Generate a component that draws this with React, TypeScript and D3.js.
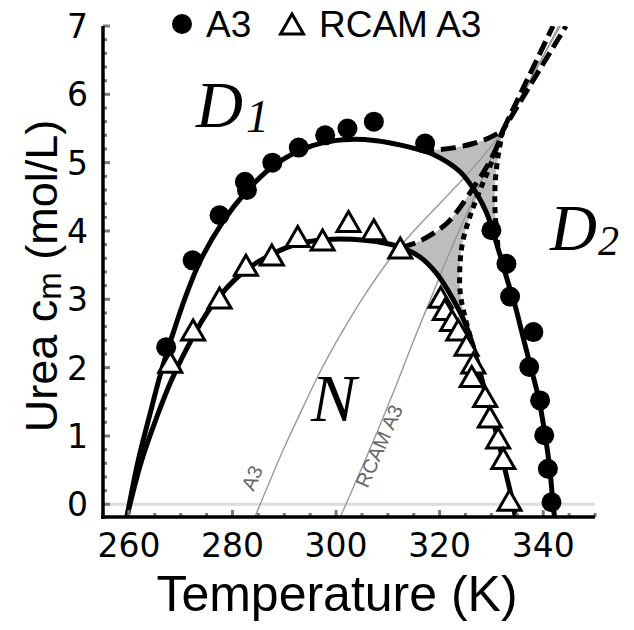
import React from 'react';
import * as d3 from 'd3';

type P = [number, number];

// ---- data (temperature K, urea mol/L) ----
const A3_T = [267.2, 272.3, 277.5, 282.4, 282.8, 287.7, 292.8, 297.9, 302.2, 307.3, 317.2, 330.0, 332.9, 333.6, 338.1, 337.3, 339.4, 340.2, 340.9, 341.6];
const A3_C = [2.30, 3.57, 4.23, 4.72, 4.60, 5.00, 5.22, 5.40, 5.50, 5.60, 5.28, 4.01, 3.52, 3.04, 2.52, 2.01, 1.52, 1.01, 0.52, 0.03];

const RCAM_T = [268.0, 272.4, 277.5, 282.6, 287.6, 292.6, 297.4, 302.4, 307.3, 312.4, 320.2, 321.0, 322.4, 323.6, 325.2, 326.5, 326.2, 328.8, 329.7, 331.3, 332.3, 333.5];
const RCAM_C = [2.05, 2.52, 2.99, 3.47, 3.62, 3.89, 3.84, 4.11, 3.99, 3.72, 3.00, 2.82, 2.66, 2.52, 2.30, 2.04, 1.84, 1.55, 1.25, 0.94, 0.64, 0.03];

const A3_FIT: P[] = [[259.6, -0.19], [261.8, 0.64], [264, 1.3], [266, 1.88], [268.3, 2.45], [271, 3.05], [273.7, 3.55], [278, 4.12], [282.6, 4.57], [287.7, 4.94], [292.8, 5.17], [297.9, 5.30], [302.7, 5.34], [307.8, 5.32], [312.3, 5.26], [316.0, 5.19], [318.8, 5.12], [323.9, 4.87], [327.1, 4.55], [329.1, 4.26], [331.3, 3.74], [333.0, 3.3], [334.6, 2.9], [336.2, 2.42], [337.8, 1.95], [339.2, 1.52], [340.4, 1.0], [341.3, 0.5], [341.9, 0], [342.2, -0.19]];
const RCAM_FIT: P[] = [[259.6, -0.19], [262.5, 0.65], [265.5, 1.3], [268, 1.78], [270.5, 2.18], [275.7, 2.87], [282.1, 3.40], [287.9, 3.67], [293, 3.82], [299.5, 3.88], [305.9, 3.86], [309.5, 3.82], [312.5, 3.76], [316.2, 3.62], [319.4, 3.38], [322.6, 3.0], [325.2, 2.6], [326.7, 2.25], [329.1, 1.55], [331.3, 0.94], [332.8, 0.45], [334.2, 0], [334.6, -0.19]];

const CUSP: P = [332.2, 5.47];
const A3_SPIN: P[] = [[316.0, 5.19], [319.5, 5.19], [323, 5.22], [326.5, 5.28], [329.5, 5.36], CUSP];
const A3_SPIN_TOP: P[] = [CUSP, [341.9, 7.0]];
const A3_SPIN2: P[] = [CUSP, [331.2, 5.05], [330.7, 4.65], [330.7, 4.3], [331.0, 4.0], [331.3, 3.74]];
const A3_EDGE: P[] = [[331.3, 3.74], [329.1, 4.26], [327.1, 4.55], [323.9, 4.87], [318.8, 5.12], [316.0, 5.19]];

const RCAM_SPIN: P[] = [[312.5, 3.76], [315.5, 3.83], [318.7, 3.96], [321.5, 4.12], [323.8, 4.33], [326.4, 4.62], [329.1, 4.94], [331.0, 5.22], CUSP];
const RCAM_SPIN_TOP: P[] = [CUSP, [344.4, 7.0]];
const RCAM_SPIN2: P[] = [CUSP, [330.0, 5.0], [327.8, 4.6], [325.8, 4.2], [324.4, 3.82], [323.9, 3.45], [324.0, 3.08], [324.9, 2.74], [326.7, 2.25]];
const RCAM_EDGE: P[] = [[326.7, 2.25], [325.2, 2.6], [322.6, 3.0], [319.4, 3.38], [316.2, 3.62], [312.5, 3.76]];

const A3_THIN: P[] = [[284.3, -0.19], [287, 0.3], [290, 0.83], [293.5, 1.4], [297, 1.95], [301, 2.5], [305, 3.0], [310, 3.55], [315, 4.0], [320, 4.4], [325, 4.8], [329, 5.15], CUSP, [343.0, 7.0]];
const RCAM_THIN: P[] = [[300.8, -0.19], [304.5, 0.45], [308, 1.07], [311.5, 1.72], [315, 2.4], [318.5, 3.05], [322, 3.7], [325.5, 4.3], [329, 4.9], CUSP, [343.3, 7.0]];

const X_TICKS = [260, 280, 300, 320, 340];
const Y_TICKS = [0, 1, 2, 3, 4, 5, 6, 7];

export default function App() {
  const x = d3.scaleLinear().domain([255, 350]).range([103, 595]);
  const y = d3.scaleLinear().domain([-0.186, 7]).range([517, 26]);
  const smooth = d3.line<P>().x(d => x(d[0])).y(d => y(d[1])).curve(d3.curveCatmullRom.alpha(0.5));
  const straight = d3.line<P>().x(d => x(d[0])).y(d => y(d[1]));
  const join = (...parts: string[]) => parts.map((p, i) => (i === 0 ? p : p.replace(/^M/, 'L'))).join('') + 'Z';

  const upperFill = join(smooth(A3_SPIN)!, smooth(A3_SPIN2)!, smooth(A3_EDGE)!);
  const lowerFill = join(smooth(RCAM_SPIN)!, smooth(RCAM_SPIN2)!, smooth(RCAM_EDGE)!);

  const xMinor = d3.range(255, 351, 5);
  const yMinor = d3.range(0, 7.01, 0.2);
  const tri = 'M0,-12L11.5,8L-11.5,8Z';
  const sans = 'Liberation Sans, Arial, sans-serif';
  const serif = 'Liberation Serif, Times New Roman, serif';
  const tickFont = 'DejaVu Sans, sans-serif';

  return (
    <svg width={634} height={630} style={{ position: 'absolute', left: 0, top: 0, background: '#fff' }}>
      <defs>
        <clipPath id="plot"><rect x={103} y={26} width={492} height={491} /></clipPath>
      </defs>
      <line x1={103} x2={595} y1={y(0)} y2={y(0)} stroke="#dcdcdc" strokeWidth={3} />
      <g clipPath="url(#plot)">
        <path d={upperFill} fill="#bdbdbd" stroke="none" />
        <path d={lowerFill} fill="#bdbdbd" stroke="none" />
        <path d={smooth(A3_THIN)!} fill="none" stroke="#999" strokeWidth={1.4} />
        <path d={smooth(RCAM_THIN)!} fill="none" stroke="#999" strokeWidth={1.4} />
        <path d={smooth(A3_FIT)!} fill="none" stroke="#000" strokeWidth={5} />
        <path d={smooth(RCAM_FIT)!} fill="none" stroke="#000" strokeWidth={5} />
        <path d={smooth(A3_SPIN)!} fill="none" stroke="#000" strokeWidth={5} strokeDasharray="15 7" />
        <path d={smooth(RCAM_SPIN)!} fill="none" stroke="#000" strokeWidth={5} strokeDasharray="15 7" />
        <path d={straight(A3_SPIN_TOP)!} fill="none" stroke="#000" strokeWidth={5} strokeDasharray="15 6" />
        <path d={straight(RCAM_SPIN_TOP)!} fill="none" stroke="#000" strokeWidth={5} strokeDasharray="15 6" strokeDashoffset={8} />
        <path d={smooth(A3_SPIN2)!} fill="none" stroke="#000" strokeWidth={5} strokeDasharray="6 5" />
        <path d={smooth(RCAM_SPIN2)!} fill="none" stroke="#000" strokeWidth={5} strokeDasharray="6 5" />
      </g>

      {RCAM_T.map((t, i) => (
        <path key={'t' + i} d={tri} transform={`translate(${x(t)},${y(RCAM_C[i])})`} fill="#fff" stroke="#000" strokeWidth={3} strokeLinejoin="miter" />
      ))}
      {A3_T.map((t, i) => (
        <circle key={'c' + i} cx={x(t)} cy={y(A3_C[i])} r={10} fill="#000" />
      ))}

      {/* axes */}
      {xMinor.map(v => {
        const major = v % 20 === 0;
        return <line key={'xt' + v} x1={x(v)} x2={x(v)} y1={517} y2={major ? 510 : 513} stroke="#7a7a7a" strokeWidth={3} />;
      })}
      {yMinor.map(v => {
        const major = Math.abs(v - Math.round(v)) < 1e-6;
        return <line key={'yt' + v.toFixed(1)} x1={103} x2={major ? 110 : 107} y1={y(v)} y2={y(v)} stroke="#7a7a7a" strokeWidth={3} />;
      })}
      <line x1={101} x2={595} y1={517} y2={517} stroke="#000" strokeWidth={3.5} />
      <line x1={103} x2={103} y1={26} y2={519} stroke="#000" strokeWidth={3.5} />

      {X_TICKS.map(v => (
        <text key={'xl' + v} x={x(v)} y={557} textAnchor="middle" fontFamily={tickFont} fontSize={33} fill="#000">{v}</text>
      ))}
      {Y_TICKS.map(v => (
        <text key={'yl' + v} x={88} y={y(v) + 12} textAnchor="end" fontFamily={tickFont} fontSize={33} fill="#000">{v}</text>
      ))}

      <text x={337} y={611} textAnchor="middle" fontFamily={sans} fontSize={50} fill="#000">Temperature (K)</text>
      <text transform="translate(57,276) rotate(-90)" textAnchor="middle" fontFamily={sans} fontSize={45} fill="#000">
        <tspan>Urea c</tspan><tspan fontSize={33} dy={4}>m</tspan><tspan dy={-4}> (mol/L)</tspan>
      </text>

      {/* legend */}
      <circle cx={182} cy={24} r={10} fill="#000" />
      <text x={206} y={37} fontFamily={sans} fontSize={37} fill="#000">A3</text>
      <path d={tri} transform="translate(292,26)" fill="#fff" stroke="#000" strokeWidth={3} />
      <text x={319} y={37} fontFamily={sans} fontSize={37} fill="#000">RCAM A3</text>

      {/* region labels */}
      <text x={196} y={127} fontFamily={serif} fontStyle="italic" fontSize={65} fill="#000">D</text>
      <text x={246} y={132} fontFamily={serif} fontStyle="italic" fontSize={46} fill="#000">1</text>
      <text x={550} y={250} fontFamily={serif} fontStyle="italic" fontSize={65} fill="#000">D</text>
      <text x={598} y={255} fontFamily={serif} fontStyle="italic" fontSize={42} fill="#000">2</text>
      <text x={311} y={421} fontFamily={serif} fontStyle="italic" fontSize={68} fill="#000">N</text>

      <text transform="translate(252,478) rotate(-66)" textAnchor="middle" dominantBaseline="central" fontFamily={sans} fontSize={20} fill="#666">A3</text>
      <text transform="translate(379,446) rotate(-66)" textAnchor="middle" dominantBaseline="central" fontFamily={sans} fontSize={20} fill="#666">RCAM A3</text>
    </svg>
  );
}
